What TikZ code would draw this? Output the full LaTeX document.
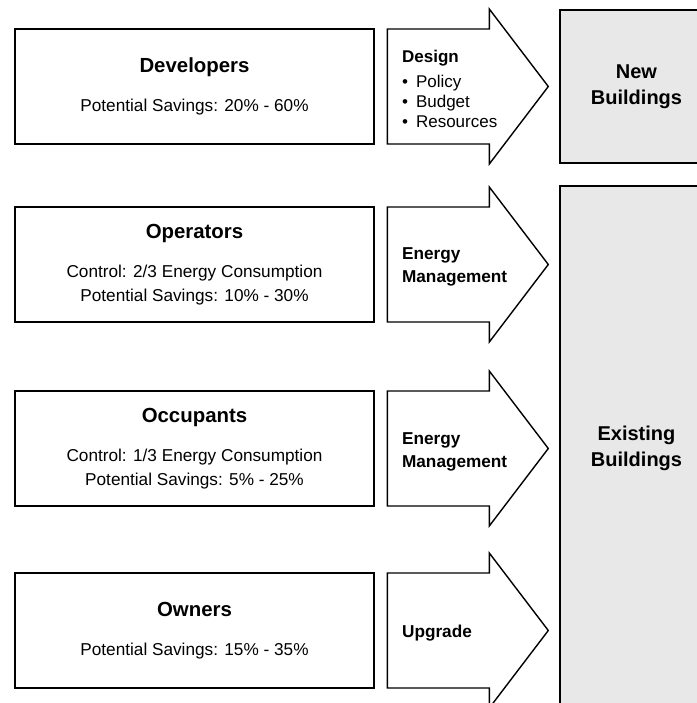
\documentclass[tikz,border=0pt]{standalone}
\usepackage{fontspec}
\setmainfont{Liberation Sans}
\usetikzlibrary{positioning}
\definecolor{panelgray}{RGB}{232,232,232}
\newcommand{\rolename}[1]{{\bfseries\fontsize{10.2}{12}\selectfont #1}}
\tikzset{
  actor/.style={draw, line width=1pt, minimum width=179.5pt, minimum height=57.5pt,
    inner sep=0pt, outer sep=0pt, align=center, font=\fontsize{8.6}{12}\selectfont},
  channel/.style={draw, line width=0.7pt, fill=white, line join=miter},
  chantext/.style={inner sep=0pt, align=left, font=\fontsize{8.5}{10}\selectfont},
  chanhead/.style={chantext, font=\bfseries\fontsize{8.6}{11.5}\selectfont},
  building/.style={draw, line width=0.8pt, fill=panelgray, minimum width=76.5pt,
    inner sep=0pt, align=center, font=\bfseries\fontsize{10}{13}\selectfont}
}
\begin{document}
\begin{tikzpicture}[x=0.5pt, y=-0.5pt, node distance=31.5pt]
  \useasboundingbox (0,0) rectangle (697,703);
  \clip (0,0) rectangle (697,703);

  % who acts on the building stock
  \node[actor] (developers) at (194.5,86.5) {\rolename{Developers}\\[7.5pt]
    Potential Savings: 20\% - 60\%};
  \node[actor, below=31.5pt of developers] (operators) {\rolename{Operators}\\[7.5pt]
    Control: 2/3 Energy Consumption\\ Potential Savings: 10\% - 30\%};
  \node[actor, below=34.5pt of operators] (occupants) {\rolename{Occupants}\\[7.5pt]
    Control: 1/3 Energy Consumption\\ Potential Savings: 5\% - 25\%};
  \node[actor, below=33.5pt of occupants] (owners) {\rolename{Owners}\\[7.5pt]
    Potential Savings: 15\% - 35\%};

  % block arrows
  \foreach \who in {developers,operators,occupants,owners}{
    \draw[channel] ([xshift=6.65pt]\who.north east) -- ++(51pt,0pt) -- ++(0pt,10pt)
      -- ([xshift=87.15pt]\who.east)
      -- ([xshift=57.65pt,yshift=-10pt]\who.south east) -- ++(0pt,10pt)
      -- ([xshift=6.65pt]\who.south east) -- cycle;
  }

  \node[chantext, anchor=north west] (design) at ([xshift=13.85pt,yshift=-10.2pt]developers.north east)
    {\textbf{Design}\\[2.5pt]
     \textbullet\hspace{4pt}Policy\\
     \textbullet\hspace{4pt}Budget\\
     \textbullet\hspace{4pt}Resources};
  \node[chanhead, anchor=north west] (opmanage) at ([xshift=13.85pt,yshift=-20pt]operators.north east)
    {Energy\\Management};
  \node[chanhead, anchor=north west] (occmanage) at ([xshift=13.85pt,yshift=-20.5pt]occupants.north east)
    {Energy\\Management};
  \node[chanhead, anchor=base west] (upgrade) at ([xshift=13.85pt,yshift=-3.25pt]owners.east)
    {Upgrade};

  % target building stock
  \node[building, minimum height=76.5pt] (newbuild) at (636.5,86.5) {New\\Buildings};
  \node[building, minimum height=262.5pt] (oldbuild) at (636.5,448.5) {Existing\\Buildings};
\end{tikzpicture}
\end{document}
